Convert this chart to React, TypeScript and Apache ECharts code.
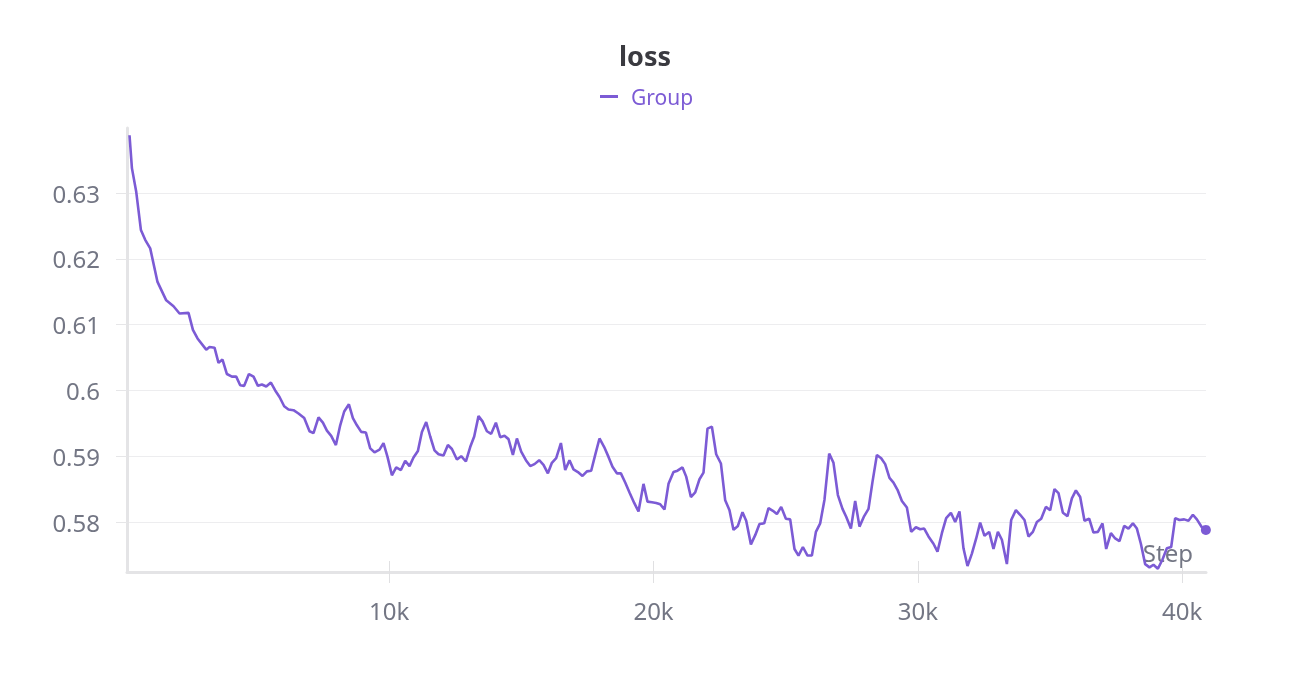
import { useEffect, useRef } from 'react';
import * as echarts from 'echarts';

const steps = [
  175, 266, 429, 606, 769, 958, 1234, 1564, 1840, 2067, 2407, 2574, 2748, 3077, 3202, 3391, 3542, 3693, 3860, 4049,
  4212, 4363, 4514, 4692, 4866, 5033, 5184, 5347, 5524, 5687, 5850, 6027, 6190, 6379, 6568, 6784, 6985, 7136, 7325,
  7491, 7643, 7805, 7983, 8146, 8297, 8475, 8626, 8778, 8940, 9118, 9281, 9443, 9633, 9784, 9935, 10102, 10265, 10442,
  10605, 10768, 10919, 11085, 11237, 11399, 11551, 11713, 11865, 12054, 12220, 12372, 12561, 12723, 12901, 13064,
  13215, 13378, 13529, 13696, 13858, 14036, 14199, 14361, 14513, 14679, 14831, 14993, 15171, 15334, 15496, 15674,
  15837, 16003, 16154, 16317, 16495, 16658, 16820, 16972, 17138, 17312, 17479, 17641, 17793, 17955, 18133, 18296,
  18447, 18613, 18765, 18928, 19090, 19268, 19431, 19620, 19771, 19938, 20100, 20252, 20414, 20566, 20755, 20906,
  21095, 21235, 21413, 21576, 21738, 21890, 22041, 22207, 22370, 22548, 22711, 22873, 23025, 23191, 23365, 23505,
  23683, 23846, 24008, 24186, 24349, 24515, 24666, 24829, 25007, 25169, 25332, 25483, 25650, 25824, 25990, 26142,
  26304, 26467, 26645, 26807, 26974, 27148, 27288, 27466, 27628, 27791, 27969, 28132, 28283, 28449, 28612, 28763,
  28926, 29077, 29229, 29395, 29584, 29747, 29925, 30087, 30239, 30401, 30590, 30742, 30908, 31071, 31249, 31411,
  31574, 31725, 31877, 32043, 32206, 32357, 32520, 32698, 32860, 33027, 33178, 33367, 33530, 33708, 33870, 34033,
  34184, 34351, 34502, 34665, 34843, 35005, 35168, 35319, 35486, 35660, 35826, 35978, 36140, 36303, 36481, 36643,
  36810, 36984, 37124, 37302, 37464, 37627, 37805, 37967, 38134, 38285, 38436, 38599, 38762, 38913, 39080, 39254,
  39420, 39583, 39734, 39897, 40075, 40237, 40404, 40555, 40743, 40895,
];

const loss = [
  0.6388, 0.6338, 0.6302, 0.6244, 0.6229, 0.6216, 0.6165, 0.6137, 0.6128, 0.6117, 0.6118, 0.6092, 0.6079, 0.6062,
  0.6066, 0.6065, 0.6042, 0.6047, 0.6025, 0.6021, 0.6021, 0.6008, 0.6007, 0.6025, 0.6021, 0.6007, 0.6009, 0.6006,
  0.6012, 0.6, 0.599, 0.5976, 0.5971, 0.597, 0.5965, 0.5958, 0.5938, 0.5935, 0.5959, 0.5951, 0.5939, 0.5931, 0.5917,
  0.5947, 0.5968, 0.5979, 0.5958, 0.5947, 0.5937, 0.5936, 0.5912, 0.5906, 0.591, 0.592, 0.5899, 0.5871, 0.5883,
  0.5879, 0.5893, 0.5885, 0.5898, 0.5908, 0.5937, 0.5952, 0.593, 0.5909, 0.5903, 0.5901, 0.5917, 0.5911, 0.5895,
  0.59, 0.5892, 0.5914, 0.593, 0.5961, 0.5953, 0.5938, 0.5934, 0.5951, 0.5929, 0.5931, 0.5926, 0.5902, 0.5927,
  0.5907, 0.5894, 0.5885, 0.5888, 0.5894, 0.5887, 0.5874, 0.589, 0.5897, 0.592, 0.5879, 0.5894, 0.588, 0.5876,
  0.587, 0.5877, 0.5878, 0.5902, 0.5927, 0.5914, 0.5899, 0.5884, 0.5874, 0.5874, 0.586, 0.5845, 0.5829, 0.5816,
  0.5858, 0.5831, 0.583, 0.5829, 0.5827, 0.5819, 0.5858, 0.5876, 0.5878, 0.5883, 0.5869, 0.5838, 0.5845, 0.5865,
  0.5875, 0.5942, 0.5945, 0.5903, 0.5889, 0.5833, 0.5818, 0.5788, 0.5794, 0.5815, 0.5802, 0.5766, 0.578, 0.5797,
  0.5798, 0.5821, 0.5817, 0.5812, 0.5823, 0.5805, 0.5804, 0.5759, 0.5749, 0.5762, 0.5749, 0.5749, 0.5785, 0.5798,
  0.5834, 0.5904, 0.589, 0.5841, 0.582, 0.5808, 0.579, 0.5832, 0.5793, 0.5809, 0.582, 0.5861, 0.5902, 0.5897,
  0.5888, 0.5867, 0.586, 0.5849, 0.5832, 0.5822, 0.5785, 0.5792, 0.5789, 0.579, 0.5778, 0.5767, 0.5755, 0.5783,
  0.5806, 0.5814, 0.58, 0.5816, 0.576, 0.5733, 0.5752, 0.5775, 0.5799, 0.5779, 0.5785, 0.5759, 0.5785, 0.5773,
  0.5736, 0.5803, 0.5818, 0.5811, 0.5803, 0.5778, 0.5785, 0.58, 0.5805, 0.5823, 0.5818, 0.585, 0.5844, 0.5814,
  0.5809, 0.5836, 0.5848, 0.5838, 0.5802, 0.5805, 0.5784, 0.5785, 0.5798, 0.5759, 0.5783, 0.5775, 0.5771, 0.5794,
  0.579, 0.5798, 0.579, 0.5767, 0.5736, 0.5731, 0.5735, 0.5729, 0.5743, 0.576, 0.5762, 0.5806, 0.5803, 0.5804,
  0.5802, 0.5811, 0.5804, 0.5792, 0.5788,
];

const yTicks = [0.58, 0.59, 0.6, 0.61, 0.62, 0.63];
const xTicks = [10000, 20000, 30000, 40000];

const PURPLE = '#7c5bd5';
const GREY = '#737684';
const FONT = '"Noto Sans", sans-serif';

const App = () => {
  const divRef = useRef<HTMLDivElement | null>(null);

  useEffect(() => {
    if (!divRef.current) return;
    const chart = echarts.init(divRef.current, null, { renderer: 'svg' });

    const points = steps.map((s, i) => [s, loss[i]]);
    const last = points[points.length - 1];

    const xBase = {
      type: 'value' as const,
      position: 'bottom' as const,
      min: 80,
      max: 40900,
      axisLine: { show: false },
      splitLine: { show: false },
    };

    chart.setOption({
      animation: false,
      textStyle: { fontFamily: FONT },
      title: {
        text: 'loss',
        left: 614,
        top: 37,
        textStyle: { fontSize: 27, fontWeight: 'bold', color: '#3a3a40', fontFamily: FONT },
      },
      legend: {
        top: 81,
        left: 595,
        data: ['Group'],
        icon: 'rect',
        itemWidth: 18,
        itemHeight: 3,
        textStyle: { color: PURPLE, fontSize: 21, fontFamily: FONT, padding: [0, 0, 0, 8] },
      },
      grid: { left: 127, right: 92, top: 128, bottom: 114 },
      xAxis: [
        {
          ...xBase,
          axisLine: { show: true, lineStyle: { color: '#e4e4e6', width: 3 } },
          axisTick: { show: true, length: 11, customValues: xTicks, lineStyle: { color: '#e0e0e2' } },
          axisLabel: {
            customValues: xTicks,
            margin: 26,
            color: GREY,
            fontSize: 24,
            fontFamily: FONT,
            formatter: (v: number) => `${v / 1000}k`,
          },
        },
        {
          ...xBase,
          axisTick: { show: true, inside: true, length: 11, customValues: xTicks, lineStyle: { color: '#e0e0e2' } },
          axisLabel: { show: false },
        },
      ],
      yAxis: {
        type: 'value',
        min: 0.5724,
        max: 0.6399,
        axisLine: { show: true, lineStyle: { color: '#e4e4e6', width: 3 } },
        axisTick: { show: true, length: 11, customValues: yTicks, lineStyle: { color: '#e6e6e8' } },
        axisLabel: { customValues: yTicks, margin: 27, color: GREY, fontSize: 24, fontFamily: FONT },
        splitLine: { show: true, lineStyle: { color: '#ededef', width: 1 } },
      },
      graphic: [
        {
          type: 'text',
          right: 105,
          top: 540,
          style: { text: 'Step', fontSize: 24, fill: GREY, fontFamily: FONT },
        },
      ],
      series: [
        {
          name: 'Group',
          type: 'line',
          data: points,
          showSymbol: false,
          lineStyle: { color: PURPLE, width: 2.6 },
          itemStyle: { color: PURPLE },
        },
        {
          type: 'scatter',
          data: [last],
          symbolSize: 10,
          itemStyle: { color: PURPLE, opacity: 1 },
          z: 3,
        },
      ],
    });

    return () => chart.dispose();
  }, []);

  return <div ref={divRef} style={{ position: 'fixed', left: 0, top: 0, width: 1298, height: 686 }} />;
};

export default App;
